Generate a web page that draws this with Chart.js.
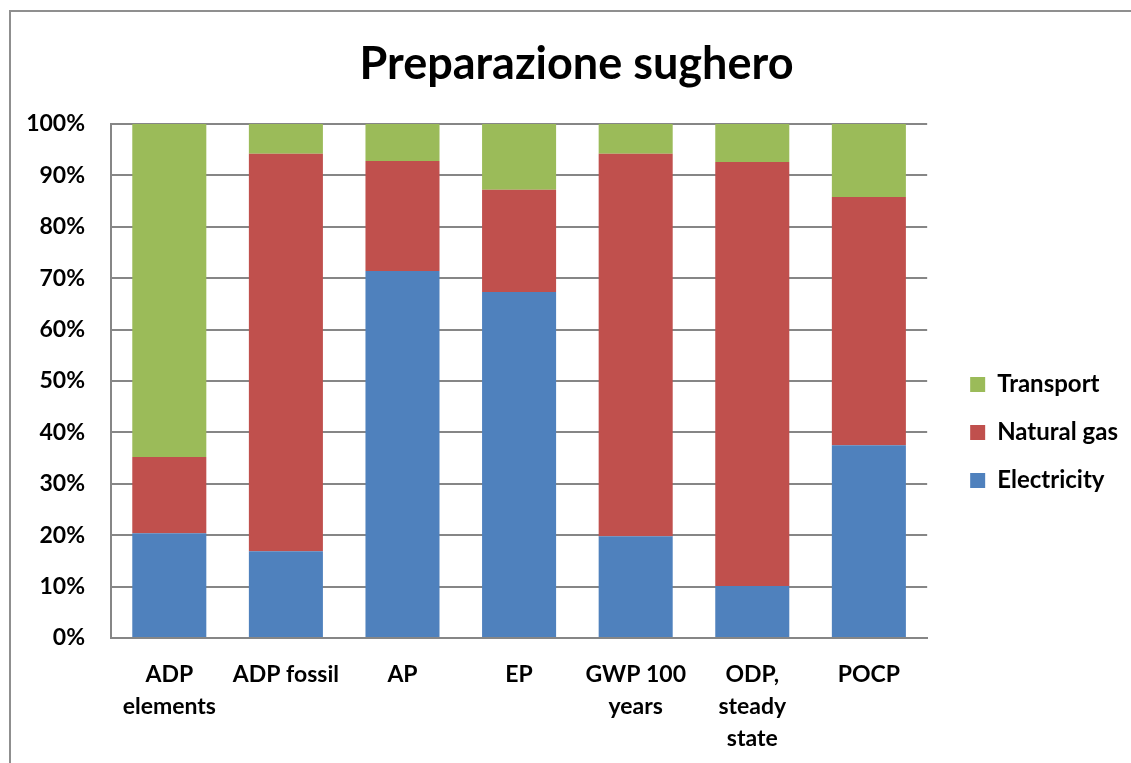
<!DOCTYPE html>
<html>
<head>
<meta charset="utf-8">
<script src="https://cdn.jsdelivr.net/npm/chart.js@4"></script>
<style>
  body { margin: 0; background: #fff; }
  #wrap { position: absolute; left: 0; top: 0; width: 1131px; height: 763px; }
  #frame { position: absolute; left: 9px; top: 10px; width: 1140px; height: 780px; border: 2px solid #8f8f8f; box-sizing: border-box; }
  canvas { position: absolute; left: 0; top: 0; }
</style>
</head>
<body>
<div id="wrap">
  <div id="frame"></div>
  <canvas id="myChart" width="1131" height="763"></canvas>
</div>
<script>
const categories = [['ADP', 'elements'], ['ADP fossil'], ['AP'], ['EP'], ['GWP 100', 'years'], ['ODP,', 'steady', 'state'], ['POCP']]
const electricity = [20.4, 16.9, 71.4, 67.3, 19.8, 10.1, 37.5]
const naturalGas = [14.8, 77.3, 21.4, 19.9, 74.4, 82.5, 48.3]
const transport = [64.8, 5.8, 7.2, 12.8, 5.8, 7.4, 14.2]

const ctx = document.getElementById('myChart')
const fontName = 'Lato, "Open Sans", sans-serif'

// sposta legenda e titolo come in Excel
const excelShift = {
  id: 'excelShift',
  afterLayout(chart) {
    const lg = chart.legend
    lg.left += 19
    lg.right += 19
    lg.top += 51
    lg.bottom += 51
    const t = chart.titleBlock
    t.left += 20
    t.right += 20
  }
}

new Chart(ctx, {
  type: 'bar',
  data: {
    labels: categories,
    datasets: [
      { label: 'Electricity', data: electricity, backgroundColor: '#4F81BD' },
      { label: 'Natural gas', data: naturalGas, backgroundColor: '#C0504D' },
      { label: 'Transport', data: transport, backgroundColor: '#9BBB59' }
    ]
  },
  plugins: [excelShift],
  options: {
    responsive: false,
    animation: false,
    barPercentage: 0.635,
    categoryPercentage: 1,
    layout: { padding: { left: 4, right: 22, top: 0, bottom: 0 } },
    plugins: {
      title: {
        display: true,
        text: 'Preparazione sughero',
        color: '#000',
        font: { family: fontName, size: 45, weight: 'bold' },
        padding: { top: 37, bottom: 33 }
      },
      legend: {
        position: 'right',
        reverse: true,
        labels: {
          color: '#000',
          boxWidth: 15,
          boxHeight: 15,
          padding: 24,
          font: { family: fontName, size: 24, weight: 'bold' }
        }
      },
      tooltip: { enabled: false }
    },
    scales: {
      x: {
        stacked: true,
        grid: { display: false, drawTicks: false },
        border: { color: '#868686', width: 2 },
        afterFit: function (scale) { scale.height = 125 },
        ticks: {
          color: '#000',
          padding: 21,
          maxRotation: 0,
          font: { family: fontName, size: 23, weight: 'bold', lineHeight: 1.38 }
        }
      },
      y: {
        stacked: true,
        min: 0,
        max: 100,
        grid: { color: '#868686', lineWidth: 2, drawTicks: false },
        border: { color: '#868686', width: 2 },
        afterFit: function (scale) { scale.width = 107 },
        ticks: {
          stepSize: 10,
          color: '#000',
          padding: 26,
          font: { family: fontName, size: 23, weight: 'bold' },
          callback: function (v) { return v + '%' }
        }
      }
    }
  }
})
</script>
</body>
</html>
